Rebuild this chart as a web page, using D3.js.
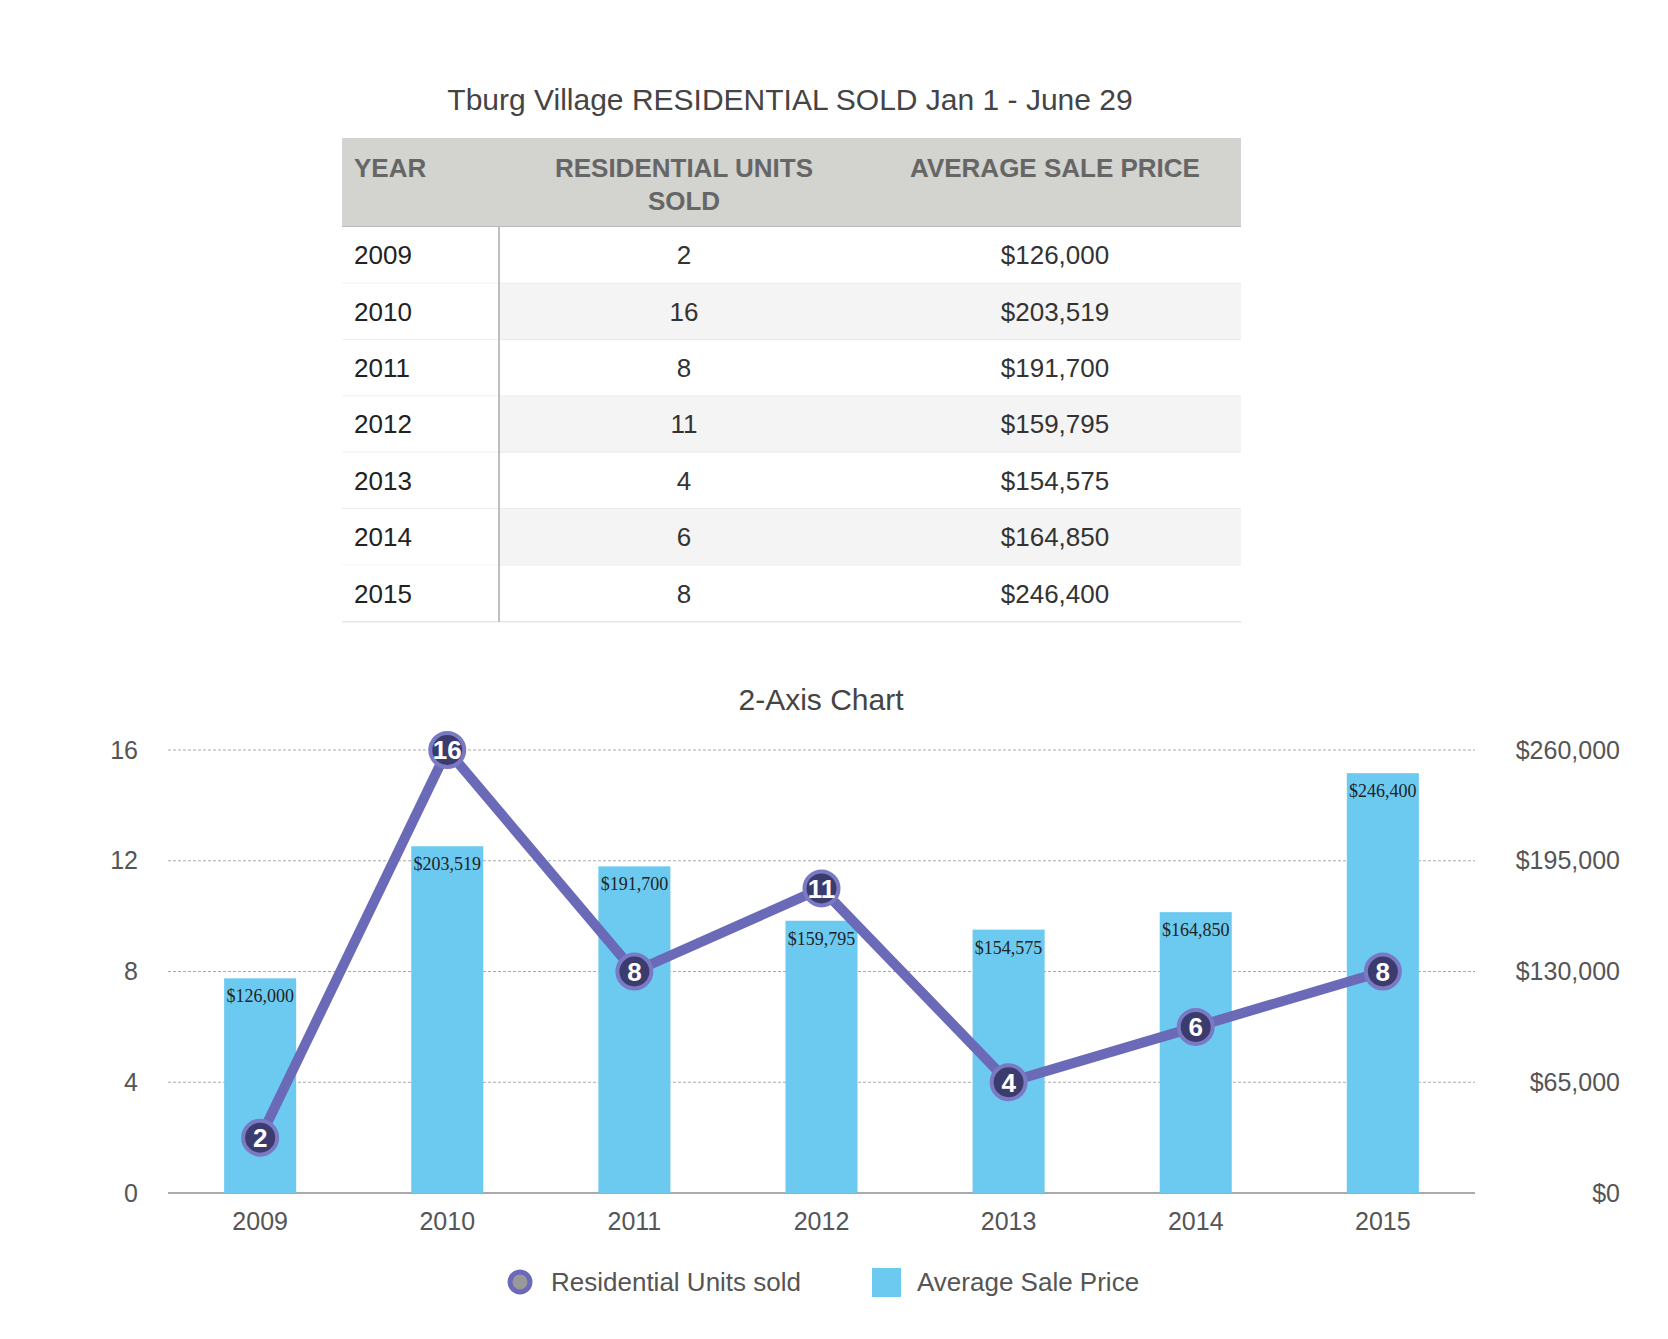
<!DOCTYPE html>
<html><head><meta charset="utf-8">
<script src="https://cdn.jsdelivr.net/npm/d3@7"></script>
<style>body{margin:0;background:#fff}</style>
</head><body><div id="chart"></div>
<script>
const years = ["2009","2010","2011","2012","2013","2014","2015"];
const units = [2, 16, 8, 11, 4, 6, 8];
const prices = [126000, 203519, 191700, 159795, 154575, 164850, 246400];
const leftTicks = [0, 4, 8, 12, 16];
const rightTicks = [0, 65000, 130000, 195000, 260000];

const W = 1668, H = 1339;
const font = "'Liberation Sans', Arial, sans-serif";
const svg = d3.select("#chart").append("svg").attr("width", W).attr("height", H)
  .style("font-family", font);

// title
svg.append("text").attr("x", 790).attr("y", 110).attr("text-anchor", "middle")
  .attr("font-size", 30).attr("fill", "#444").text("Tburg Village RESIDENTIAL SOLD  Jan 1 - June 29");

// table
const tx = 342, tw = 899, hy = 138, hh = 89, rh = 56.4;
const c1 = 499, c2 = 870;
svg.append("rect").attr("x", tx).attr("y", hy).attr("width", tw).attr("height", hh).attr("fill", "#d3d3cf");
svg.append("line").attr("x1", tx).attr("x2", tx + tw).attr("y1", hy + hh).attr("y2", hy + hh).attr("stroke", "#bbb").attr("stroke-width", 2);
const hdr = svg.append("g").attr("font-size", 26).attr("font-weight", "bold").attr("fill", "#666");
hdr.append("text").attr("x", 354).attr("y", 177).text("YEAR");
hdr.append("text").attr("x", 684).attr("y", 177).attr("text-anchor", "middle").text("RESIDENTIAL UNITS");
hdr.append("text").attr("x", 684).attr("y", 210).attr("text-anchor", "middle").text("SOLD");
hdr.append("text").attr("x", 1055).attr("y", 177).attr("text-anchor", "middle").text("AVERAGE SALE PRICE");
const fmt = d3.format("$,");
const rows = svg.selectAll("g.row").data(years).join("g").attr("class", "row")
  .attr("transform", (d, i) => `translate(0,${hy + hh + i * rh})`);
rows.append("rect").attr("x", tx).attr("width", tw).attr("height", rh)
  .attr("fill", (d, i) => i % 2 ? "#f4f4f4" : "#fff");
rows.append("rect").attr("x", tx).attr("width", c1 - tx).attr("height", rh).attr("fill", "#fff");
rows.append("line").attr("x1", tx).attr("x2", tx + tw).attr("y1", rh).attr("y2", rh).attr("stroke", "#e6e6e6").attr("stroke-width", 1.5);
rows.append("text").attr("x", 354).attr("y", rh / 2 + 9).attr("font-size", 26).attr("fill", "#222").text(d => d);
rows.append("text").attr("x", 684).attr("y", rh / 2 + 9).attr("text-anchor", "middle").attr("font-size", 26).attr("fill", "#333").text((d, i) => units[i]);
rows.append("text").attr("x", 1055).attr("y", rh / 2 + 9).attr("text-anchor", "middle").attr("font-size", 26).attr("fill", "#333").text((d, i) => fmt(prices[i]));
svg.append("line").attr("x1", c1).attr("x2", c1).attr("y1", hy + hh).attr("y2", hy + hh + 7 * rh).attr("stroke", "#aaa").attr("stroke-width", 1.5);

// chart
svg.append("text").attr("x", 821).attr("y", 710).attr("text-anchor", "middle")
  .attr("font-size", 30).attr("fill", "#444").text("2-Axis Chart");
const L = 168, R = 1475, T = 750, B = 1193;
const x = d3.scaleBand().domain(years).range([L, R]).paddingInner(0.615).paddingOuter(0.3);
const yL = d3.scaleLinear().domain([0, 16]).range([B, T]);
const yR = d3.scaleLinear().domain([0, 260000]).range([B, T]);

svg.append("g").selectAll("line").data(leftTicks.slice(1)).join("line")
  .attr("x1", L).attr("x2", R).attr("y1", d => yL(d)).attr("y2", d => yL(d))
  .attr("stroke", "#aaa").attr("stroke-dasharray", "3,2");
svg.append("line").attr("x1", L).attr("x2", R).attr("y1", B).attr("y2", B).attr("stroke", "#aaa").attr("stroke-width", 2);

const axL = svg.append("g").attr("transform", `translate(${L - 30},0)`)
  .call(d3.axisLeft(yL).tickValues(leftTicks).tickSize(0).tickPadding(0));
const axR = svg.append("g").attr("transform", `translate(1620,0)`)
  .call(d3.axisLeft(yR).tickValues(rightTicks).tickSize(0).tickPadding(0).tickFormat(fmt));
const axX = svg.append("g").attr("transform", `translate(0,${B + 14})`)
  .call(d3.axisBottom(x).tickSize(0).tickPadding(0));
[axL, axR, axX].forEach(a => {
  a.select(".domain").remove();
  a.selectAll("text").attr("font-size", 25).attr("fill", "#555").style("font-family", font);
});
axX.selectAll("text").attr("dy", "0.9em");

const bw = x.bandwidth();
svg.selectAll("rect.bar").data(prices).join("rect").attr("class", "bar")
  .attr("x", (d, i) => x(years[i])).attr("width", bw)
  .attr("y", d => yR(d)).attr("height", d => B - yR(d)).attr("fill", "#6ccaf0");
svg.selectAll("text.bl").data(prices).join("text").attr("class", "bl")
  .attr("x", (d, i) => x(years[i]) + bw / 2).attr("y", d => yR(d) + 24)
  .attr("text-anchor", "middle").attr("font-size", 18).attr("fill", "#222")
  .style("font-family", "'Liberation Serif', serif").text(d => fmt(d));

const line = d3.line().x((d, i) => x(years[i]) + bw / 2).y(d => yL(d));
svg.append("path").datum(units).attr("d", line).attr("fill", "none")
  .attr("stroke", "#6a6ab8").attr("stroke-width", 10).attr("stroke-linejoin", "round");
const pts = svg.selectAll("g.pt").data(units).join("g").attr("class", "pt")
  .attr("transform", (d, i) => `translate(${x(years[i]) + bw / 2},${yL(d)})`);
pts.append("circle").attr("r", 17).attr("fill", "#3b3b6e").attr("stroke", "#7a7ac4").attr("stroke-width", 4);
pts.append("text").attr("text-anchor", "middle").attr("dy", "0.36em").attr("font-size", 26)
  .attr("font-weight", "bold").attr("fill", "#fff").text(d => d);

// legend
const lg = svg.append("g").attr("font-size", 26).attr("fill", "#555");
lg.append("circle").attr("cx", 520).attr("cy", 1282).attr("r", 10).attr("fill", "#999").attr("stroke", "#6a6ab8").attr("stroke-width", 5);
lg.append("text").attr("x", 551).attr("y", 1291).text("Residential Units sold");
lg.append("rect").attr("x", 872).attr("y", 1268).attr("width", 29).attr("height", 29).attr("fill", "#6ccaf0");
lg.append("text").attr("x", 917).attr("y", 1291).text("Average Sale Price");
</script></body></html>
